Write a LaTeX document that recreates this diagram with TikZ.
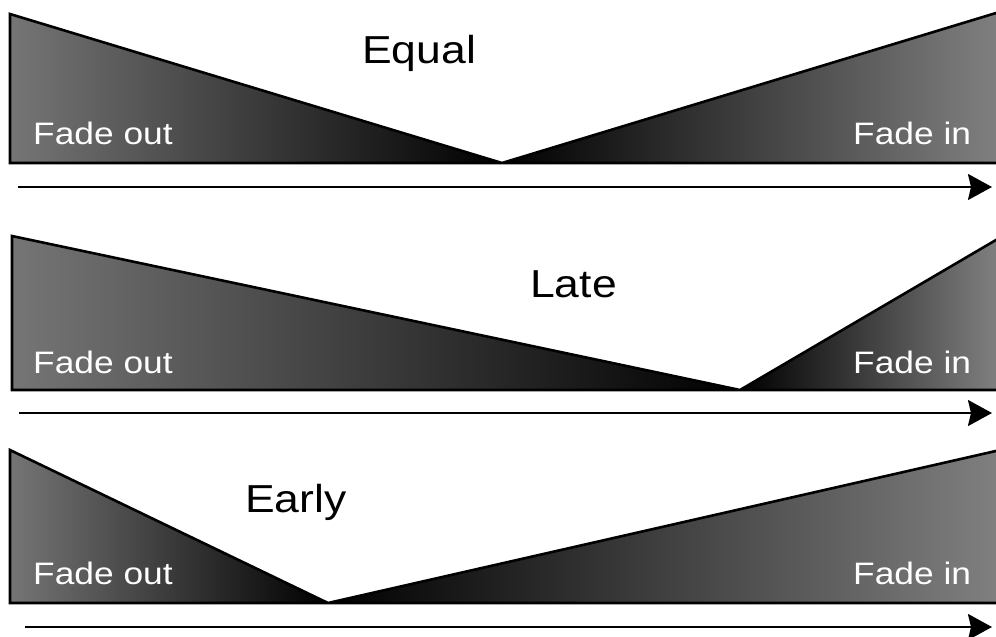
\documentclass[tikz,border=0pt]{standalone}
\usepackage{fontspec}
\newfontfamily\lblfont[FakeStretch=1.14]{Liberation Sans}
\usetikzlibrary{arrows.meta}
\definecolor{fgray}{gray}{0.46}
\definecolor{mgray}{gray}{0.32}
\definecolor{rgray}{gray}{0.50}
\begin{document}
\begin{tikzpicture}[x=1pt,y=-1pt,
  outline/.style={line width=2.6pt},
  outshade/.style={left color=fgray, middle color=mgray, right color=black},
  inshade/.style={left color=black, middle color=mgray, right color=rgray},
  lbl/.style={text=white, font=\lblfont\fontsize{31}{31}\selectfont, anchor=base west, inner sep=0pt},
  ttl/.style={text=black, font=\lblfont\fontsize{39}{39}\selectfont, anchor=base west, inner sep=0pt},
  timeline/.style={line width=2.3pt, -{Stealth[length=24pt,width=26pt,inset=3pt]}}
]
\useasboundingbox (0,0) rectangle (996,637);
\clip (0,0) rectangle (996,637);

% ---- Panel 1: Equal
\coordinate (o1t) at (10,14);
\coordinate (o1b) at (10,163);
\coordinate (m1)  at (502,163);
\coordinate (i1b) at (998,163);
\coordinate (i1t) at (998,12.4);
\fill[outshade] (o1t) -- (o1b) -- (m1) -- cycle;
\fill[inshade] (m1) -- (i1b) -- (i1t) -- cycle;
\draw[outline] (i1t) -- (m1) -- (o1t) -- (o1b) -- (i1b);
\coordinate (a1s) at (18,187);
\coordinate (a1e) at (992,187);
\draw[timeline] (a1s) -- (a1e);
\node[ttl] (t1) at (362,63) {Equal};
\node[lbl] (fo1) at (33,144) {Fade out};
\node[lbl] (fi1) at (853,144) {Fade in};

% ---- Panel 2: Late
\coordinate (o2t) at (12,236);
\coordinate (o2b) at (12,390);
\coordinate (m2)  at (740,390);
\coordinate (i2b) at (998,390);
\coordinate (i2t) at (998,238.8);
\fill[outshade] (o2t) -- (o2b) -- (m2) -- cycle;
\fill[inshade] (m2) -- (i2b) -- (i2t) -- cycle;
\draw[outline] (i2t) -- (m2) -- (o2t) -- (o2b) -- (i2b);
\coordinate (a2s) at (19,413);
\coordinate (a2e) at (992,413);
\draw[timeline] (a2s) -- (a2e);
\node[ttl] (t2) at (530,297) {Late};
\node[lbl] (fo2) at (33,373) {Fade out};
\node[lbl] (fi2) at (853,373) {Fade in};

% ---- Panel 3: Early
\coordinate (o3t) at (10,450);
\coordinate (o3b) at (10,603);
\coordinate (m3)  at (328,603);
\coordinate (i3b) at (998,603);
\coordinate (i3t) at (998,450.5);
\fill[outshade] (o3t) -- (o3b) -- (m3) -- cycle;
\fill[inshade] (m3) -- (i3b) -- (i3t) -- cycle;
\draw[outline] (i3t) -- (m3) -- (o3t) -- (o3b) -- (i3b);
\coordinate (a3s) at (25,627);
\coordinate (a3e) at (992,627);
\draw[timeline] (a3s) -- (a3e);
\node[ttl] (t3) at (245,512) {Early};
\node[lbl] (fo3) at (33,584) {Fade out};
\node[lbl] (fi3) at (853,584) {Fade in};
\end{tikzpicture}
\end{document}
